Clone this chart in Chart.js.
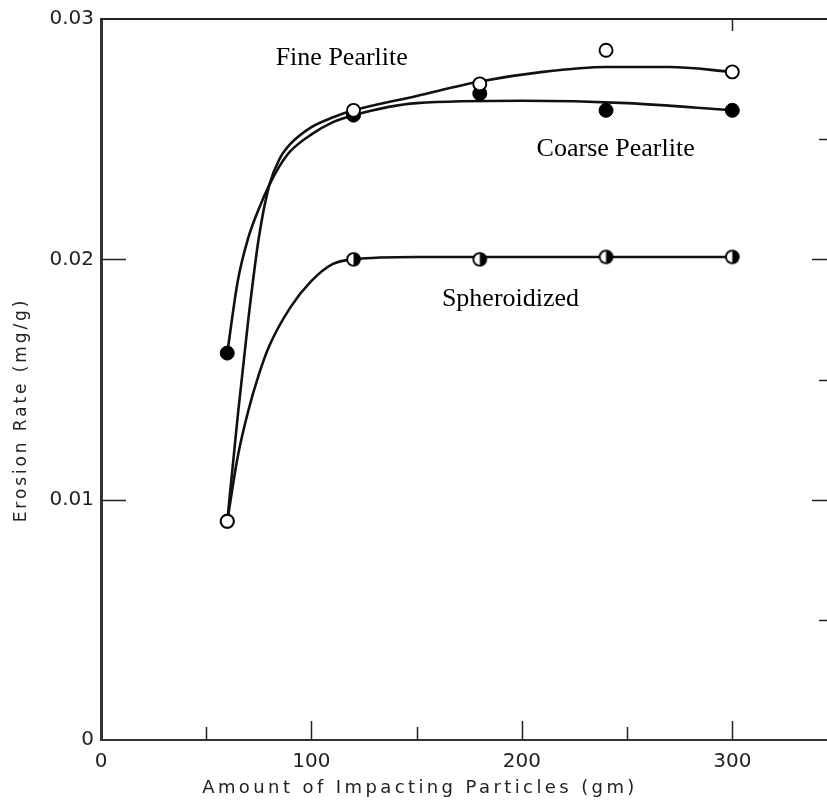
<!DOCTYPE html>
<html>
<head>
<meta charset="utf-8">
<script src="https://cdn.jsdelivr.net/npm/chart.js@4/dist/chart.umd.min.js"></script>
<style>
html,body{margin:0;padding:0;background:#fff;}
#c{display:block;}
</style>
</head>
<body>
<canvas id="c" width="827" height="801"></canvas>
<script>
// ---- data ----
const xPoints = [60, 120, 180, 240, 300];
const finePearlite = [0.0091, 0.0262, 0.0273, 0.0287, 0.0278];
const coarsePearlite = [0.0161, 0.0260, 0.0269, 0.0262, 0.0262];
const spheroidized = [0.0091, 0.0200, 0.0200, 0.0201, 0.0201];

// fitted curves as drawn in the figure
const fineCurveX = [60, 65, 70, 75, 80, 85, 90, 100, 110, 120, 150, 180, 210, 240, 270, 300];
const fineCurveY = [0.0091, 0.0135, 0.0175, 0.0209, 0.0231, 0.0242, 0.0248, 0.0255, 0.0259, 0.0262, 0.0268, 0.0274, 0.0278, 0.0280, 0.0280, 0.0278];
const coarseCurveX = [60, 65, 70, 75, 80, 85, 90, 100, 110, 120, 150, 200, 250, 300];
const coarseCurveY = [0.0161, 0.0191, 0.0209, 0.0221, 0.0231, 0.0239, 0.0245, 0.0252, 0.0257, 0.0260, 0.0265, 0.0266, 0.0265, 0.0262];
const sphCurveX = [60, 65, 70, 75, 80, 90, 100, 110, 120, 150, 200, 300];
const sphCurveY = [0.0091, 0.0118, 0.0137, 0.0152, 0.0164, 0.0180, 0.0191, 0.0198, 0.0200, 0.0201, 0.0201, 0.0201];

const seriesNames = ["Fine Pearlite", "Coarse Pearlite", "Spheroidized"];
const xTitle = "Amount of Impacting Particles (gm)";
const yTitle = "Erosion Rate (mg/g)";

// annotation placement (data coordinates of left/baseline)
const annotationPlacement = [
  {x: 83, y: 0.0281},
  {x: 207, y: 0.0243},
  {x: 162, y: 0.01805}
];

const pts = (xs, ys) => xs.map((x, i) => ({x: x, y: ys[i]}));

// half-filled marker
function halfMarker() {
  const c = document.createElement('canvas');
  c.width = 17; c.height = 17;
  const g = c.getContext('2d');
  g.beginPath(); g.arc(8.5, 8.5, 6.4, 0, Math.PI * 2); g.fillStyle = '#fff'; g.fill();
  g.beginPath(); g.moveTo(8.5, 8.5); g.arc(8.5, 8.5, 6.4, -Math.PI / 2, Math.PI / 2); g.closePath(); g.fillStyle = '#000'; g.fill();
  g.beginPath(); g.arc(8.5, 8.5, 6.4, 0, Math.PI * 2); g.lineWidth = 1.9; g.strokeStyle = '#000'; g.stroke();
  return c;
}

const curveStyle = {
  showLine: true, borderColor: '#111', borderWidth: 2.6, pointRadius: 0,
  cubicInterpolationMode: 'monotone', fill: false
};

const axisFont = {family: "'DejaVu Sans', sans-serif", size: 20};

const decorPlugin = {
  id: 'decor',
  afterDraw(chart) {
    const ctx = chart.ctx;
    const a = chart.chartArea;
    const xs = chart.scales.x, ys = chart.scales.y;
    ctx.save();
    ctx.strokeStyle = '#222';
    // top border
    ctx.lineWidth = 2;
    ctx.beginPath(); ctx.moveTo(a.left, a.top); ctx.lineTo(a.right, a.top); ctx.stroke();
    // x ticks (inward from bottom)
    ctx.lineWidth = 1.5;
    for (let v = 50; v <= 300; v += 50) {
      const px = Math.round(xs.getPixelForValue(v)) + 0.5;
      const len = v % 100 === 0 ? 19 : 13;
      ctx.beginPath(); ctx.moveTo(px, a.bottom); ctx.lineTo(px, a.bottom - len); ctx.stroke();
    }
    // top tick at 300
    {
      const px = Math.round(xs.getPixelForValue(300)) + 0.5;
      ctx.beginPath(); ctx.moveTo(px, a.top); ctx.lineTo(px, a.top + 12); ctx.stroke();
    }
    // y ticks left and right
    for (let k = 1; k <= 5; k++) {
      const v = k * 0.005;
      const py = Math.round(ys.getPixelForValue(v)) + 0.5;
      const major = k % 2 === 0;
      if (major) {
        ctx.beginPath(); ctx.moveTo(a.left, py); ctx.lineTo(a.left + 25, py); ctx.stroke();
      }
      ctx.beginPath(); ctx.moveTo(a.right, py); ctx.lineTo(a.right - (major ? 15 : 8), py); ctx.stroke();
    }
    // axis titles
    ctx.fillStyle = '#222';
    ctx.font = "18px 'DejaVu Sans', sans-serif";
    ctx.letterSpacing = '3.4px';
    ctx.textAlign = 'center';
    ctx.textBaseline = 'middle';
    ctx.fillText(xTitle, 420, 788);
    ctx.save();
    ctx.translate(22, 410);
    ctx.rotate(-Math.PI / 2);
    ctx.font = "17px 'DejaVu Sans', sans-serif";
    ctx.letterSpacing = '2.9px';
    ctx.fillText(yTitle, 0, 0);
    ctx.restore();
    // series annotations
    ctx.letterSpacing = '0px';
    ctx.font = "26px 'Liberation Serif', 'Times New Roman', serif";
    ctx.fillStyle = '#000';
    ctx.textAlign = 'left';
    ctx.textBaseline = 'alphabetic';
    seriesNames.forEach((name, i) => {
      const p = annotationPlacement[i];
      ctx.fillText(name, xs.getPixelForValue(p.x), ys.getPixelForValue(p.y));
    });
    ctx.restore();
  }
};

new Chart(document.getElementById('c'), {
  type: 'scatter',
  data: {
    datasets: [
      Object.assign({label: seriesNames[0] + ' curve', data: pts(fineCurveX, fineCurveY), order: 10}, curveStyle),
      Object.assign({label: seriesNames[1] + ' curve', data: pts(coarseCurveX, coarseCurveY), order: 11}, curveStyle),
      Object.assign({label: seriesNames[2] + ' curve', data: pts(sphCurveX, sphCurveY), order: 12}, curveStyle),
      {label: seriesNames[2], data: pts(xPoints, spheroidized), pointStyle: halfMarker(), pointRadius: 7, order: 3},
      {label: seriesNames[1], data: pts(xPoints, coarsePearlite), pointStyle: 'circle', pointRadius: 7,
        backgroundColor: '#000', borderColor: '#000', borderWidth: 1, order: 2},
      {label: seriesNames[0], data: pts(xPoints, finePearlite), pointStyle: 'circle', pointRadius: 6.5,
        backgroundColor: '#fff', borderColor: '#000', borderWidth: 1.9, order: 1}
    ]
  },
  options: {
    responsive: false,
    animation: false,
    devicePixelRatio: 1,
    layout: {autoPadding: false, padding: {top: 19, right: 0, left: 0, bottom: 0}},
    plugins: {legend: {display: false}, tooltip: {enabled: false}},
    scales: {
      x: {
        type: 'linear', min: 0, max: 345,
        afterFit: s => { s.height = 61; s.paddingRight = 0; s.paddingLeft = 0; },
        grid: {display: false, drawTicks: false},
        border: {display: true, color: '#333', width: 2},
        ticks: {
          stepSize: 50, autoSkip: false, maxRotation: 0, padding: 10,
          color: '#222', font: axisFont,
          callback: v => (Math.abs(v % 100) < 1e-9 ? String(v) : '')
        }
      },
      y: {
        type: 'linear', min: 0, max: 0.03,
        afterFit: s => { s.width = 101; s.paddingTop = 0; s.paddingBottom = 0; },
        grid: {display: false, drawTicks: false},
        border: {display: true, color: '#333', width: 3},
        ticks: {
          stepSize: 0.005, autoSkip: false, padding: 7,
          color: '#222', font: axisFont,
          callback: v => {
            const m = Math.round(v * 1000);
            if (m % 10 !== 0) return '';
            return m === 0 ? '0' : (m / 1000).toFixed(2);
          }
        }
      }
    }
  },
  plugins: [decorPlugin]
});
</script>
</body>
</html>
